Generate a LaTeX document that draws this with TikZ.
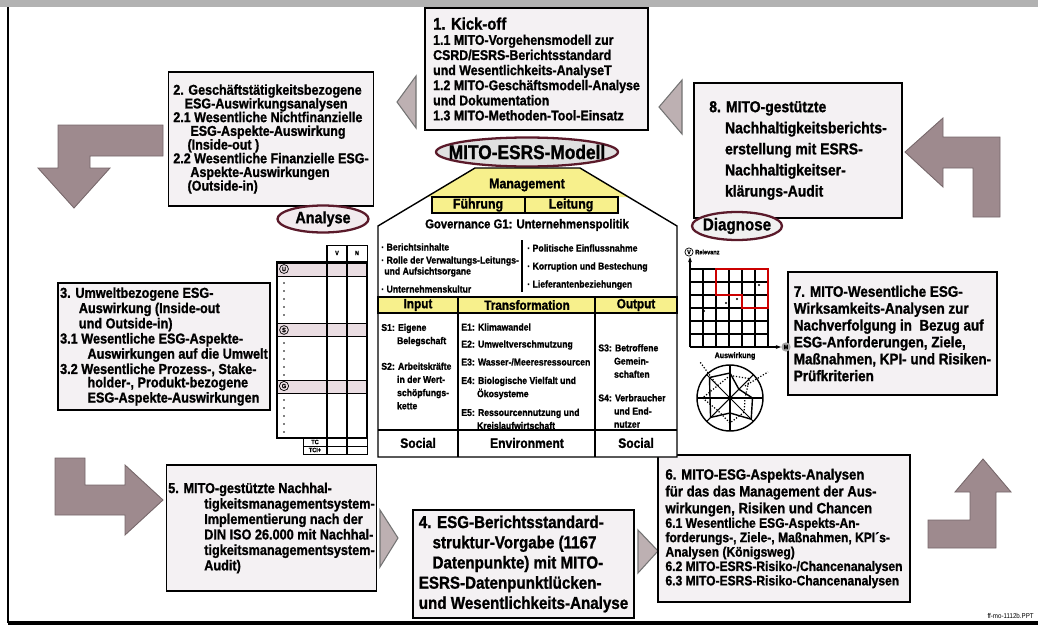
\documentclass[tikz,border=0pt]{standalone}
\usepackage{fontspec}
\setmainfont{Liberation Sans}[FakeStretch=0.88, BoldFeatures={FakeBold=1.2}]
\usetikzlibrary{shapes.geometric,arrows.meta}
\definecolor{kastenfill}{HTML}{F4F1F3}
\definecolor{knickfill}{HTML}{9E8A8E}
\definecolor{keilfill}{HTML}{BDB0B2}
\definecolor{ovalrand}{HTML}{5A1A2A}
\definecolor{gelb}{HTML}{F7F08C}
\definecolor{bandfill}{HTML}{EADDE2}
\newcommand{\schrift}[2]{\fontsize{#1}{#2}\selectfont\bfseries}
\tikzset{
  kasten/.style={draw=black, line width=1pt, fill=kastenfill, align=left, inner sep=1pt},
  knick/.style={fill=knickfill, draw=knickfill!75!black, line width=0.5pt},
  keil/.style={fill=keilfill, draw=black!55, line width=0.6pt},
  oval/.style={draw=ovalrand, line width=1.3pt},
  gelbfeld/.style={fill=gelb, draw=black, line width=0.8pt},
  klein/.style={font=\schrift{5.6}{7.5}, align=left, inner sep=0pt},
  mini/.style={font=\schrift{3.6}{4}, inner sep=0pt},
  gitter/.style={line width=1.1pt},
}
\begin{document}
\begin{tikzpicture}[x=0.02cm,y=-0.02cm]
\useasboundingbox (0,0) rectangle (1038,632);
% rahmen
\fill[black!30] (0,0) rectangle (1038,7);
\draw[line width=1.2pt] (8,7) -- (8,623);
\draw[line width=2pt] (8,623) -- (1038,623);
\node[font=\fontsize{4}{4}\selectfont, anchor=east, inner sep=0pt] (fuss) at (1034,616) {ff-mo-1112b.PPT};

% knick-pfeile
\draw[knick] (163,125) -- (163,156) -- (90,156) -- (90,168) -- (110,168) -- (74,208) -- (38,168) -- (58,168) -- (58,125) -- cycle;
\draw[knick] (943,137) -- (1000,137) -- (1000,217) -- (973,217) -- (973,168) -- (943,168) -- (943,187) -- (905,152) -- (943,118) -- cycle;
\draw[knick] (55,458) -- (85,458) -- (85,485) -- (125,485) -- (125,465) -- (163,500) -- (125,535) -- (125,515) -- (55,515) -- cycle;
\draw[knick] (928,520) -- (970,520) -- (970,492) -- (955,492) -- (983,459) -- (1011,492) -- (996,492) -- (996,548) -- (928,548) -- cycle;
% keile
\draw[keil] (416,76) -- (416,128) -- (397,102) -- cycle;
\draw[keil] (682,80) -- (682,134) -- (659,107) -- cycle;
\draw[keil] (380,510) -- (380,567) -- (398,538) -- cycle;
\draw[keil] (638,530) -- (638,573) -- (658,551) -- cycle;

% kasten 1
\node[kasten, minimum width=4.46cm, minimum height=2.44cm, font=\schrift{8}{8.6}] (k1) at (536.5,69)
  {{\schrift{9.6}{11}1. Kick-off}\\1.1 MITO-Vorgehensmodell zur\\CSRD/ESRS-Berichtsstandard\\und Wesentlichkeits-AnalyseT\\1.2 MITO-Geschäftsmodell-Analyse\\und Dokumentation\\1.3 MITO-Methoden-Tool-Einsatz};
% kasten 2
\node[kasten, minimum width=4.1cm, minimum height=2.68cm, font=\schrift{8.1}{7.8}] (k2) at (271,139)
  {2. Geschäftstätigkeitsbezogene\\\hspace*{0.8em}ESG-Auswirkungsanalysen\\2.1 Wesentliche Nichtfinanzielle\\\hspace*{1.2em}ESG-Aspekte-Auswirkung\\\hspace*{1em}(Inside-out )\\2.2 Wesentliche Finanzielle ESG-\\\hspace*{1.2em}Aspekte-Auswirkungen\\\hspace*{1em}(Outside-in)};
% kasten 3
\node[kasten, minimum width=4.24cm, minimum height=2.54cm, font=\schrift{8.2}{7.6}] (k3) at (164,346.5)
  {3. Umweltbezogene ESG-\\\hspace*{1.3em}Auswirkung (Inside-out\\\hspace*{1.3em}und Outside-in)\\3.1 Wesentliche ESG-Aspekte-\\\hspace*{1.9em}Auswirkungen auf die Umwelt\\3.2 Wesentliche Prozess-, Stake-\\\hspace*{1.9em}holder-, Produkt-bezogene\\\hspace*{1.9em}ESG-Aspekte-Auswirkungen};
% kasten 4
\node[kasten, minimum width=4.42cm, minimum height=2.16cm, font=\schrift{9.8}{11.5}] (k4) at (523.5,564)
  {4. ESG-Berichtsstandard-\\\hspace*{0.8em}struktur-Vorgabe (1167\\\hspace*{0.8em}Datenpunkte) mit MITO-\\ESRS-Datenpunktlücken-\\und Wesentlichkeits-Analyse};
% kasten 5
\node[kasten, minimum width=4.14cm, minimum height=2.52cm, font=\schrift{8.2}{8.8}] (k5) at (271.5,528)
  {5. MITO-gestützte Nachhal-\\\hspace*{2.5em}tigkeitsmanagementsystem-\\\hspace*{2.5em}Implementierung nach der\\\hspace*{2.5em}DIN ISO 26.000 mit Nachhal-\\\hspace*{2.5em}tigkeitsmanagementsystem-\\\hspace*{2.5em}Audit)};
% kasten 6
\node[kasten, minimum width=5.04cm, minimum height=2.94cm, font=\schrift{7.8}{8.2}] (k6) at (784,528.5)
  {{\schrift{8.5}{9.6}6. MITO-ESG-Aspekts-Analysen}\\[1.4pt]{\schrift{8.5}{9.6}für das das Management der Aus-}\\[1.4pt]{\schrift{8.5}{9.6}wirkungen, Risiken und Chancen}\\6.1 Wesentliche ESG-Aspekts-An-\\forderungs-, Ziele-, Maßnahmen, KPI´s-\\Analysen (Königsweg)\\6.2 MITO-ESRS-Risiko-/Chancenanalysen\\6.3 MITO-ESRS-Risiko-Chancenanalysen};
% kasten 7
\node[kasten, minimum width=4.18cm, minimum height=2.46cm, font=\schrift{8.7}{9.6}] (k7) at (892.5,333.5)
  {7. MITO-Wesentliche ESG-\\Wirksamkeits-Analysen zur\\Nachverfolgung in~ Bezug auf\\ESG-Anforderungen, Ziele,\\Maßnahmen, KPI- und Risiken-\\Prüfkriterien};
% kasten 8
\node[kasten, minimum width=4.16cm, minimum height=2.7cm, font=\schrift{9}{12}] (k8) at (798,150.5)
  {8. MITO-gestützte\\\hspace*{1em}Nachhaltigkeitsberichts-\\\hspace*{1em}erstellung mit ESRS-\\\hspace*{1em}Nachhaltigkeitser-\\\hspace*{1em}klärungs-Audit};

% ovale
\draw[oval, fill=black!12] (527,152) ellipse [x radius=1.82cm, y radius=0.29cm];
\node[font=\schrift{11.2}{12}] (modell) at (527,152) {MITO-ESRS-Modell};
\draw[oval, fill=bandfill!60] (323,219) ellipse [x radius=0.91cm, y radius=0.27cm];
\node[font=\schrift{9.3}{10}] (analyse) at (323,219) {Analyse};
\draw[oval, fill=black!6] (737,226) ellipse [x radius=0.9cm, y radius=0.28cm];
\node[font=\schrift{9.8}{10}] (diagnose) at (737,226) {Diagnose};

% haus
\fill[white] (378,457) -- (378,226) -- (475,168) -- (580,168) -- (677,226) -- (677,457) -- cycle;
\fill[gelb] (475,168) -- (580,168) -- (629,197) -- (426,197) -- cycle;
\draw[line width=0.8pt] (378,457) -- (378,226) -- (475,168) -- (580,168) -- (677,226) -- (677,457) -- cycle;
\node[font=\schrift{8}{9}] (mgmt) at (527,185) {Management};
\draw[gelbfeld] (432,197) rectangle (618,213);
\draw[line width=0.8pt] (525,197) -- (525,213);
\node[font=\schrift{8}{9}] (fuehrung) at (478,205) {Führung};
\node[font=\schrift{8}{9}] (leitung) at (571,205) {Leitung};
\node[font=\schrift{7.3}{8}] (gov) at (527,225) {Governance G1: Unternehmenspolitik};
\draw[line width=0.6pt] (522,240) -- (522,292);
\node[klein, anchor=west] (g1) at (381,247) {· Berichtsinhalte};
\node[klein, anchor=west] (g2) at (381,261) {· Rolle der Verwaltungs-Leitungs-};
\node[klein, anchor=west] (g3) at (384,272) {und Aufsichtsorgane};
\node[klein, anchor=west] (g4) at (381,289) {· Unternehmenskultur};
\node[klein, anchor=west] (g5) at (527,248) {· Politische Einflussnahme};
\node[klein, anchor=west] (g6) at (527,267) {· Korruption und Bestechung};
\node[klein, anchor=west] (g7) at (527,285) {· Lieferantenbeziehungen};
% kopfzeile
\draw[gelbfeld] (378,297) rectangle (677,313);
\draw[line width=0.8pt] (458,297) -- (458,457) (595,297) -- (595,457) (378,430) -- (677,430);
\node[font=\schrift{7.6}{8}] (input) at (418,305) {Input};
\node[font=\schrift{7.6}{8}] (trans) at (527,305) {Transformation};
\node[font=\schrift{7.6}{8}] (output) at (636,305) {Output};
% spalten
\node[klein, anchor=west] (s1) at (381,335) {S1: Eigene\\\hspace*{1.6em}Belegschaft};
\node[klein, anchor=west] (s2) at (381,386) {S2: Arbeitskräfte\\\hspace*{1.6em}in der Wert-\\\hspace*{1.6em}schöpfungs-\\\hspace*{1.6em}kette};
\node[klein, anchor=west] (e1) at (461,327) {E1: Klimawandel};
\node[klein, anchor=west] (e2) at (461,345) {E2: Umweltverschmutzung};
\node[klein, anchor=west] (e3) at (461,362) {E3: Wasser-/Meeresressourcen};
\node[klein, anchor=west] (e4) at (461,388) {E4: Biologische Vielfalt und\\\hspace*{1.6em}Ökosysteme};
\node[klein, anchor=west] (e5) at (461,419) {E5: Ressourcennutzung und\\\hspace*{1.6em}Kreislaufwirtschaft};
\node[klein, anchor=west] (s3) at (598,361) {S3: Betroffene\\\hspace*{1.6em}Gemein-\\\hspace*{1.6em}schaften};
\node[klein, anchor=west] (s4) at (598,411) {S4: Verbraucher\\\hspace*{1.6em}und End-\\\hspace*{1.6em}nutzer};
\node[font=\schrift{7.8}{8}] (soc1) at (418,443) {Social};
\node[font=\schrift{7.8}{8}] (env) at (527,443) {Environment};
\node[font=\schrift{7.8}{8}] (soc2) at (636,443) {Social};

% tabelle analyse
\draw[line width=0.5pt] (327,245) rectangle (367,262) (347,245) -- (347,262);
\node[mini] (tv) at (337,253) {V};
\node[mini] (tn) at (357,253) {N};
\foreach \y in {263,323,380}
  \draw[fill=bandfill, line width=0.4pt] (277,\y) rectangle (367,\y+13);
\draw[line width=0.6pt] (277,262) rectangle (367,438);
\draw[line width=0.6pt] (327,245) -- (327,454) (347,245) -- (347,454);
\draw[line width=0.5pt] (303,438) rectangle (367,454) (303,446) -- (367,446);
\node[mini] (tc) at (315,442) {TC};
\node[mini] (tci) at (315,450) {TCI+};
\foreach \y in {283,291,...,315} \fill (284,\y) circle (0.5pt);
\foreach \y in {343,351,...,375} \fill (284,\y) circle (0.5pt);
\foreach \y in {400,408,...,432} \fill (284,\y) circle (0.5pt);
\node[mini, circle, draw, line width=0.4pt, inner sep=0.6pt] (cu) at (284,269) {U};
\node[mini, circle, draw, line width=0.4pt, inner sep=0.6pt] (cs) at (284,330) {S};
\node[mini, circle, draw, line width=0.4pt, inner sep=0.6pt] (cg) at (284,386) {G};

% matrix diagnose
\foreach \i in {0,...,6} {
  \draw[gitter] (690+13*\i,269) -- (690+13*\i,347);
  \draw[gitter] (690,269+13*\i) -- (768,269+13*\i);
}
\draw[line width=1pt,-{Stealth[length=3pt]}] (690,347) -- (781,347);
\draw[line width=1pt,-{Stealth[length=3pt]}] (690,347) -- (690,257);
\draw[red!80!black, line width=1.6pt] (716,269) -- (768,269) -- (768,308) -- (742,308) -- (742,295) -- (716,295) -- cycle;
\foreach \p in {(759,285),(737,299),(726,303),(704,311)} \fill \p circle (0.6pt);
\node[mini, circle, draw, line width=0.4pt, inner sep=0.5pt] (cv) at (689,252) {V};
\node[mini, anchor=west] (relevanz) at (695,252) {Relevanz};
\node[mini, circle, fill=black!35, inner sep=0.6pt] (cm) at (786,347) {M};
\node[font=\schrift{4.6}{5}] (ausw) at (735,356) {Auswirkung};
% radar
\draw[line width=0.8pt] (730,398) circle [radius=0.66cm];
\foreach \w in {0,45,...,315} \draw[line width=0.6pt] (730,398) -- ++(\w:0.66cm);
\draw[line width=0.8pt, shift={(730,398)}] (90:0.5cm) -- (45:0.25cm) -- (0:0.45cm) -- (-45:0.6cm) -- (-90:0.3cm) -- (-135:0.55cm) -- (180:0.4cm) -- (135:0.58cm) -- cycle;
\draw[densely dotted, line width=0.7pt, shift={(730,398)}] (90:0.45cm) -- (45:0.55cm) -- (0:0.3cm) -- (-45:0.4cm) -- (-90:0.5cm) -- (-135:0.35cm) -- (180:0.55cm) -- (135:0.35cm) -- cycle;
\draw[densely dotted, line width=0.7pt] (717,385) -- (700,362);
\draw[densely dotted, line width=0.7pt] (745,386) -- (768,372);
\end{tikzpicture}
\end{document}
